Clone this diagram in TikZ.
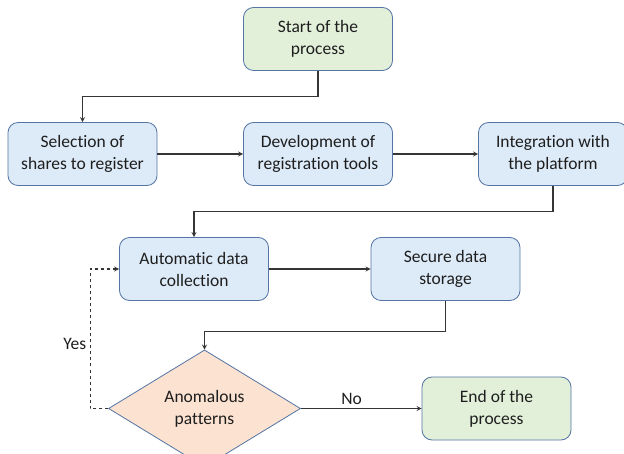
\documentclass[tikz,border=0pt]{standalone}
\usepackage{fontspec}
\setmainfont{Carlito}[Ligatures={NoCommon}]
\usetikzlibrary{shapes.geometric}

\definecolor{stepfill}{RGB}{221,234,248}
\definecolor{endfill}{RGB}{226,240,218}
\definecolor{askfill}{RGB}{251,226,209}
\definecolor{rim}{RGB}{84,116,164}
\definecolor{ink}{RGB}{30,30,30}

\begin{document}
\begin{tikzpicture}[>=stealth, x=1pt, y=-1pt,
    box/.style={draw=rim, line width=0.8pt, rounded corners=10pt, minimum width=149pt, minimum height=63pt, align=center, text=ink, font=\fontsize{17.5}{22}\selectfont},
    ask/.style={diamond, draw=rim, line width=0.8pt, fill=askfill, minimum width=192pt, minimum height=95pt, inner sep=0pt, align=center, text=ink, font=\fontsize{17.5}{22}\selectfont},
    link/.style={->, line width=1.2pt, draw=ink!90}]

    \clip (0,0) rectangle (624,454);
    \fill[white] (0,0) rectangle (624,454);

    % first row
    \node[box, fill=endfill] (start) at (318, 39) {Start of the\\process};
    \node[box, fill=stepfill] (select) at (82.5, 154) {Selection of\\shares to register};
    \node[box, fill=stepfill] (develop) at (318, 154) {Development of\\registration tools};
    \node[box, fill=stepfill] (integrate) at (553, 154) {Integration with\\the platform};

    % data handling
    \node[box, fill=stepfill] (collect) at (194, 269) {Automatic data\\collection};
    \node[box, fill=stepfill] (store) at (445.5, 269) {Secure data\\storage};

    % check and end
    \node[ask] (anomaly) at (204.5, 408.5) {Anomalous\\patterns};
    \node[box, fill=endfill] (finish) at (496.5, 408.5) {End of the\\process};

    % arrows
    \draw[link] (start.south) -- ++(0, 26) -| (select.north);
    \draw[link] (select) -- (develop);
    \draw[link] (develop) -- (integrate);
    \draw[link] (integrate.south) -- ++(0, 26) -| (collect.north);
    \draw[link] (collect) -- (store);
    \draw[link] (store.south) -- ++(0, 31) -| (anomaly.north);
    \draw[link] (anomaly) -- node[above, pos=0.42, text=ink, font=\fontsize{17.5}{22}\selectfont] {No} (finish);
    \draw[link, dashed] (anomaly.west) -- ++(-18, 0) |- node[left, pos=0.23, text=ink, font=\fontsize{17.5}{22}\selectfont] {Yes} (collect.west);

\end{tikzpicture}
\end{document}
